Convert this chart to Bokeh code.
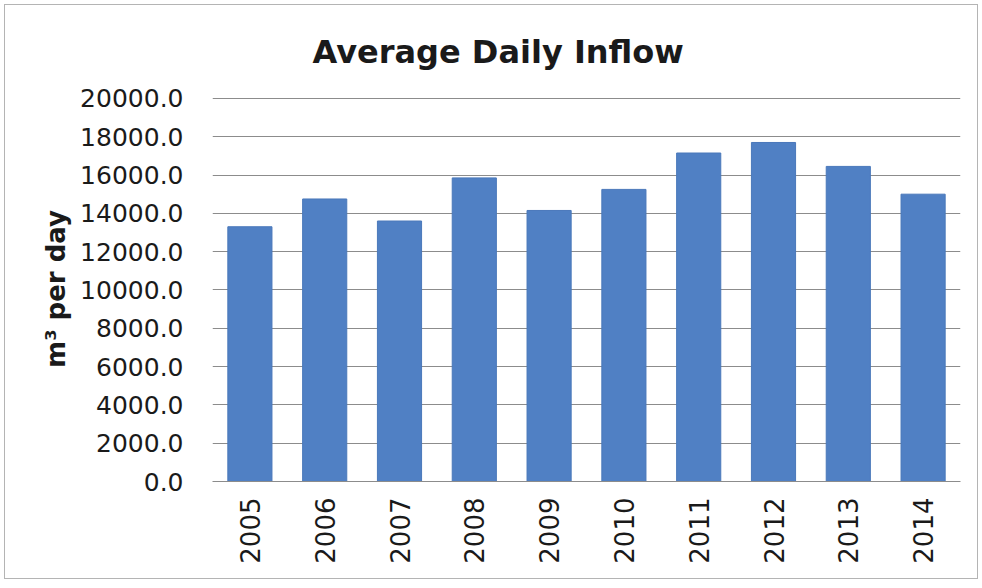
import math
from bokeh.plotting import figure
from bokeh.models import Range1d, FixedTicker, NumeralTickFormatter
from bokeh.embed import file_html
from bokeh.resources import INLINE

years = ["2005", "2006", "2007", "2008", "2009", "2010", "2011", "2012", "2013", "2014"]
inflow = [13300, 14750, 13600, 15850, 14150, 15250, 17150, 17700, 16450, 15000]
y_ticks = [0, 2000, 4000, 6000, 8000, 10000, 12000, 14000, 16000, 18000, 20000]

FONT = "DejaVu Sans"
TEXT = "#1a1a1a"

p = figure(
    x_range=years,
    y_range=Range1d(0, 20100),
    width=972, height=573,
    output_backend="svg", toolbar_location=None,
    min_border_left=207, min_border_right=17,
    min_border_top=91, min_border_bottom=97,
    title="Average Daily Inflow",
)
p.margin = (5, 5, 10, 5)
p.styles = {"outline": "1px solid #b4b4b4"}

p.vbar(x=years, top=inflow, width=0.59, fill_color="#5080C4", line_color="#4a78ba", line_width=1)

p.title.text_font = FONT
p.title.text_font_size = "32px"
p.title.text_font_style = "bold"
p.title.text_color = TEXT
p.title.align = "left"
p.title.offset = 100
p.title.standoff = 51

p.outline_line_color = None
p.background_fill_color = "white"
p.border_fill_color = "white"

p.xgrid.grid_line_color = None
p.ygrid.grid_line_color = "#8c8c8c"
p.ygrid.grid_line_width = 1
p.ygrid.ticker = FixedTicker(ticks=y_ticks)

p.yaxis.ticker = FixedTicker(ticks=y_ticks)
p.yaxis.formatter = NumeralTickFormatter(format="0.0")
p.yaxis.axis_line_color = None
p.yaxis.major_tick_line_color = None
p.yaxis.minor_tick_line_color = None
p.yaxis.major_label_text_font = FONT
p.yaxis.major_label_text_font_size = "25px"
p.yaxis.major_label_text_color = TEXT
p.yaxis.major_label_standoff = 23
p.yaxis.axis_label = "m³ per day"
p.yaxis.axis_label_text_font = FONT
p.yaxis.axis_label_text_font_size = "26px"
p.yaxis.axis_label_text_font_style = "bold"
p.yaxis.axis_label_text_color = TEXT
p.yaxis.axis_label_standoff = 6

p.xaxis.axis_line_color = "#8c8c8c"
p.xaxis.major_tick_line_color = None
p.xaxis.minor_tick_line_color = None
p.xaxis.major_label_orientation = math.pi / 2
p.xaxis.major_label_text_font = FONT
p.xaxis.major_label_text_font_size = "26px"
p.xaxis.major_label_text_color = TEXT
p.xaxis.major_label_standoff = 10

p.x_range.range_padding = 0.0

open("out.html", "w").write(file_html(p, INLINE))
